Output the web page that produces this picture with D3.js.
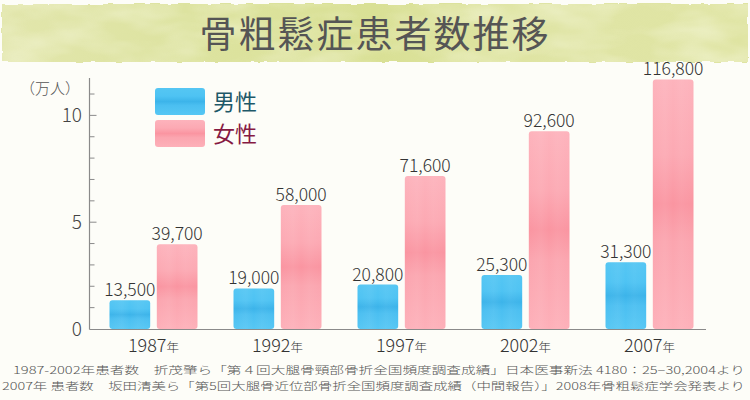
<!DOCTYPE html>
<html><head><meta charset="utf-8">
<script src="https://cdn.jsdelivr.net/npm/d3@7"></script>
<style>
html,body{margin:0;padding:0;background:#fdfdf8;}
svg{display:block;font-family:"Noto Sans CJK JP","Noto Sans",sans-serif;font-weight:300;}
</style></head>
<body><svg id="c" width="750" height="400"></svg>
<script>
const title = "骨粗鬆症患者数推移";
const years = ["1987", "1992", "1997", "2002", "2007"];
const yearSuffix = "年";
const seriesNames = ["男性", "女性"];
const male = [13500, 19000, 20800, 25300, 31300];
const female = [39700, 58000, 71600, 92600, 116800];
const yTickLabels = [0, 5, 10];
const yUnitLabel = "（万人）";
const notes = [
  "1987-2002年患者数　折茂肇ら「第４回大腿骨頸部骨折全国頻度調査成績」日本医事新法 4180：25−30,2004より",
  "2007年 患者数　坂田清美ら「第5回大腿骨近位部骨折全国頻度調査成績（中間報告）」2008年骨粗鬆症学会発表より"
];

const svg = d3.select("#c");
const defs = svg.append("defs");

svg.append("rect").attr("width",750).attr("height",400).attr("fill","#fdfdf8");

const f = defs.append("filter").attr("id","rough").attr("x","-2%").attr("y","-20%").attr("width","104%").attr("height","140%");
f.append("feTurbulence").attr("type","fractalNoise").attr("baseFrequency","0.08").attr("numOctaves",2).attr("seed",3).attr("result","n");
f.append("feDisplacementMap").attr("in","SourceGraphic").attr("in2","n").attr("scale",4).attr("xChannelSelector","R").attr("yChannelSelector","G");

const bg = defs.append("linearGradient").attr("id","bannerG").attr("x1",0).attr("x2",1).attr("y1",0).attr("y2",0);
[[0,"#e2e6ac"],[0.25,"#dde3a0"],[0.5,"#d9e095"],[0.75,"#e0e5a6"],[1,"#dfe4a2"]].forEach(s=>bg.append("stop").attr("offset",s[0]).attr("stop-color",s[1]));

const tf = defs.append("filter").attr("id","mottle");
tf.append("feTurbulence").attr("type","fractalNoise").attr("baseFrequency","0.015 0.04").attr("numOctaves",3).attr("seed",7).attr("result","t");
tf.append("feColorMatrix").attr("in","t").attr("type","matrix")
  .attr("values","0 0 0 0 1  0 0 0 0 1  0 0 0 0 0.9  1.2 0 0 0 -0.45").attr("result","c");
tf.append("feComposite").attr("in","c").attr("in2","SourceGraphic").attr("operator","in");

svg.append("rect").attr("x",2).attr("y",4).attr("width",746).attr("height",58)
  .attr("fill","url(#bannerG)").attr("filter","url(#rough)");
svg.append("rect").attr("x",2).attr("y",4).attr("width",746).attr("height",58)
  .attr("fill","#dfe4a2").attr("filter","url(#mottle)").attr("opacity",0.6);

svg.append("text").attr("x",375).attr("y",48).attr("text-anchor","middle")
  .attr("font-size",37).attr("font-weight",400).attr("letter-spacing",2).attr("fill","#555").text(title);

const x0 = 89.5, baseY = 329;
const y = d3.scaleLinear().domain([0, 11.75]).range([baseY, 78]);
const xb = d3.scaleBand().domain(years).range([91.5, 711.5]).padding(0);
const xi = d3.scaleBand().domain(seriesNames).range([-44, 44]).paddingInner(0.14);

function barGrad(id, stops){
  const g = defs.append("linearGradient").attr("id",id).attr("x1",0).attr("x2",0).attr("y1",0).attr("y2",1);
  stops.forEach(s=>g.append("stop").attr("offset",s[0]).attr("stop-color",s[1]));
}
barGrad("blueG",[[0,"#55c6f3"],[0.3,"#4ec3f3"],[0.5,"#3cb4ea"],[0.65,"#4bbff1"],[1,"#56c7f4"]]);
barGrad("pinkG",[[0,"#fdb3bc"],[0.3,"#fca9b3"],[0.5,"#fa95a1"],[0.65,"#fba5af"],[1,"#fdb0b9"]]);
const hg = defs.append("linearGradient").attr("id","hStreak").attr("x1",0).attr("x2",1);
[[0,0.0],[0.3,0.06],[0.5,0.0],[0.7,0.05],[1,0]].forEach(s=>hg.append("stop").attr("offset",s[0]).attr("stop-color","#fff").attr("stop-opacity",s[1]));

const colors = {"男性":"url(#blueG)","女性":"url(#pinkG)"};
const data = [];
years.forEach((yr,i)=>{
  data.push({yr, s:"男性", v:male[i]});
  data.push({yr, s:"女性", v:female[i]});
});

const axisColor = "#8a8a8a";
const ticksG = svg.append("g");
d3.range(1, 12).forEach(t=>{
  const major = yTickLabels.includes(t);
  ticksG.append("line").attr("x1",x0).attr("x2",x0+(major?7:5))
    .attr("y1",y(t)).attr("y2",y(t)).attr("stroke",axisColor).attr("stroke-width",1);
});
yTickLabels.forEach(t=>{
  ticksG.append("text").attr("x",82).attr("y",y(t)+6.5).attr("text-anchor","end")
    .attr("font-size",19).attr("fill","#444").text(t);
});
svg.append("text").attr("x",80).attr("y",94).attr("text-anchor","end")
  .attr("font-size",15).attr("fill","#555").text(yUnitLabel);

const bars = svg.append("g");
data.forEach(d=>{
  const bx = xb(d.yr) + xb.bandwidth()/2 + xi(d.s);
  const top = y(d.v/10000);
  bars.append("rect").attr("x",bx).attr("y",top).attr("width",xi.bandwidth())
    .attr("height",baseY-top).attr("rx",3).attr("fill",colors[d.s]);
  bars.append("rect").attr("x",bx).attr("y",top).attr("width",xi.bandwidth())
    .attr("height",baseY-top).attr("rx",3).attr("fill","url(#hStreak)");
  bars.append("text").attr("x",bx+xi.bandwidth()/2).attr("y",top-4)
    .attr("text-anchor","middle").attr("font-size",17.5).attr("fill","#333")
    .text(d3.format(",")(d.v));
});

svg.append("line").attr("x1",x0).attr("x2",x0).attr("y1",78).attr("y2",baseY+0.5).attr("stroke",axisColor).attr("stroke-width",1.2);
svg.append("line").attr("x1",x0).attr("x2",706).attr("y1",baseY+0.5).attr("y2",baseY+0.5).attr("stroke",axisColor).attr("stroke-width",1.2);

years.forEach(yr=>{
  const t = svg.append("text").attr("x",xb(yr)+xb.bandwidth()/2).attr("y",352)
    .attr("text-anchor","middle").attr("fill","#333");
  t.append("tspan").attr("font-size",18).text(yr);
  t.append("tspan").attr("font-size",12.5).text(yearSuffix);
});

const lg = svg.append("g");
const legColors = ["url(#blueG)","url(#pinkG)"];
const legText = ["#1e5868","#861a43"];
seriesNames.forEach((s,i)=>{
  lg.append("rect").attr("x",155).attr("y",88+i*32).attr("width",50).attr("height",27).attr("rx",3).attr("fill",legColors[i]);
  lg.append("text").attr("x",213).attr("y",110+i*32).attr("font-size",22).attr("font-weight",400).attr("fill",legText[i]).text(s);
});

svg.append("text").attr("x",745).attr("y",374).attr("text-anchor","end").attr("font-size",10.5)
  .attr("fill","#555").attr("textLength",732).attr("lengthAdjust","spacingAndGlyphs").text(notes[0]);
svg.append("text").attr("x",745).attr("y",389.5).attr("text-anchor","end").attr("font-size",10.5)
  .attr("fill","#555").attr("textLength",743).attr("lengthAdjust","spacingAndGlyphs").text(notes[1]);
</script></body></html>
